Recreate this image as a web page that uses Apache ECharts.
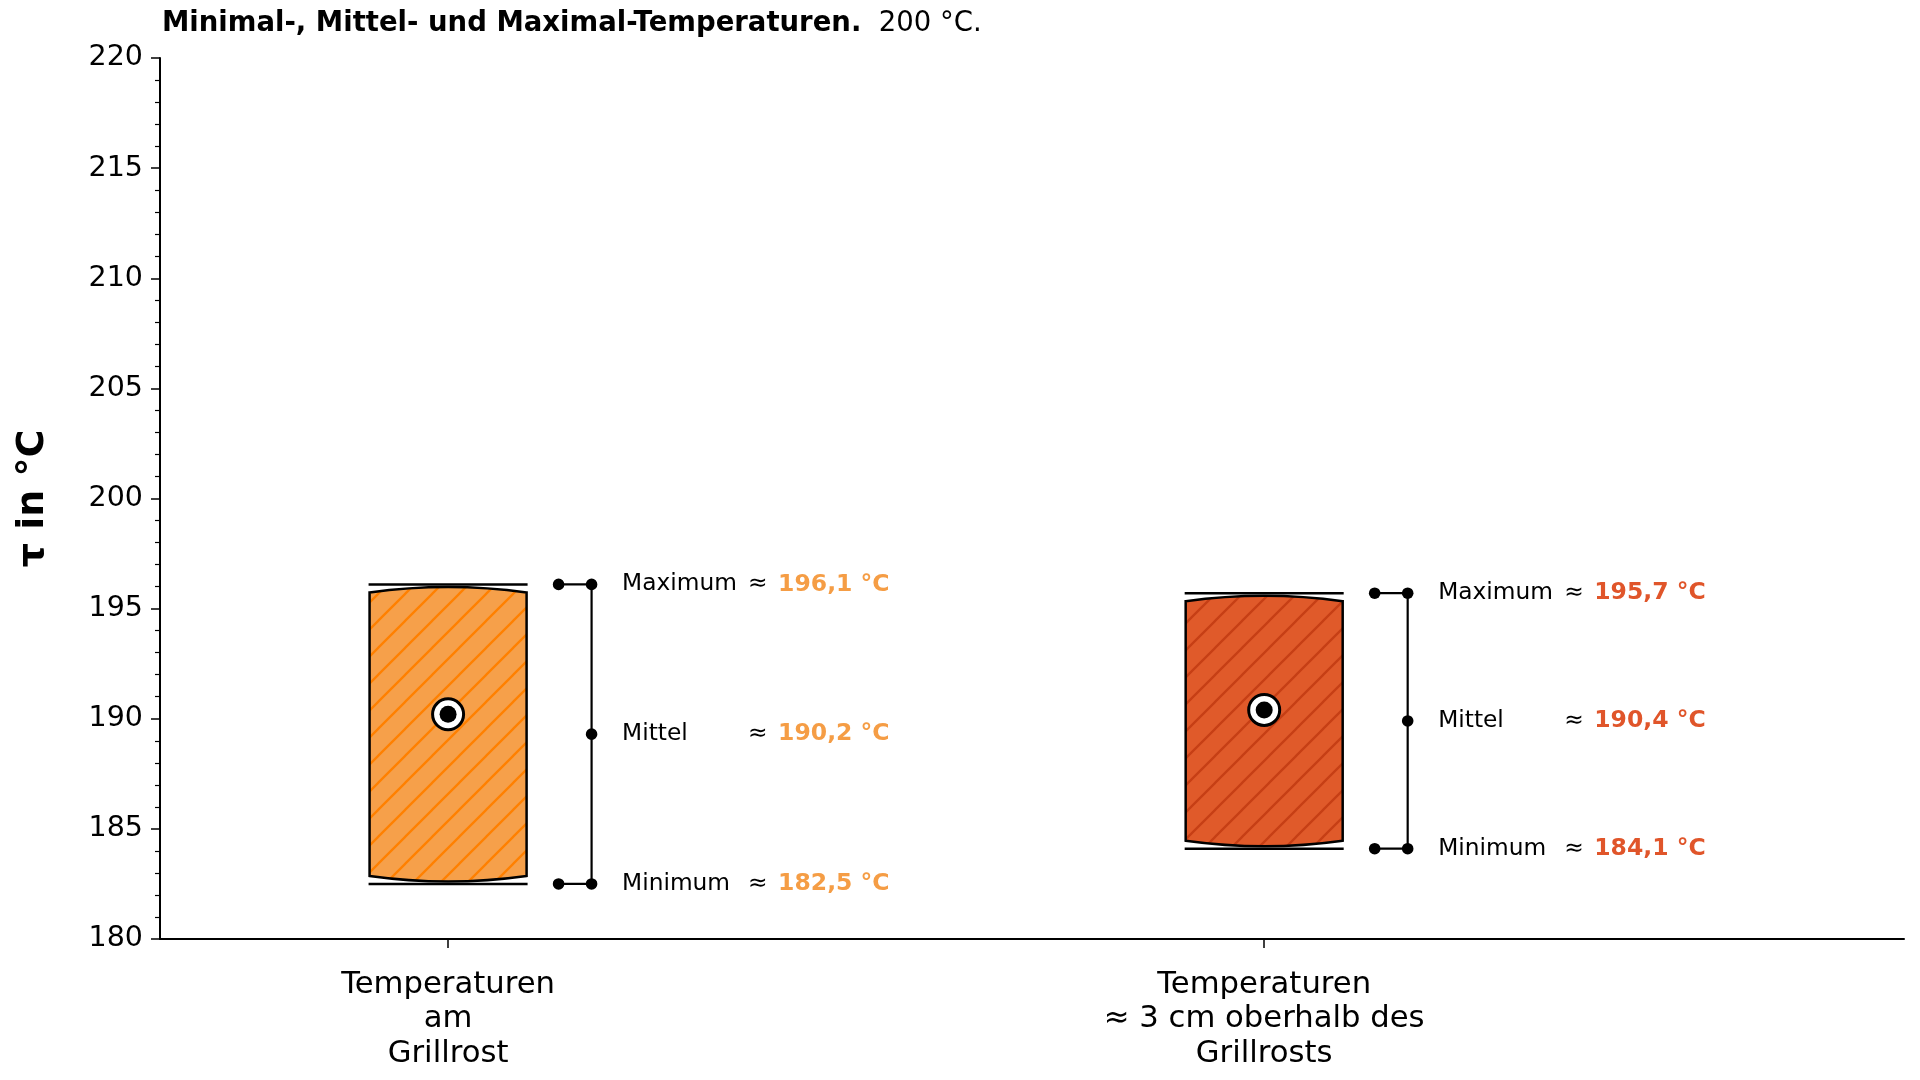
<!DOCTYPE html>
<html><head><meta charset="utf-8">
<script src="https://cdn.jsdelivr.net/npm/echarts@6/dist/echarts.min.js"></script>
<style>html,body{margin:0;padding:0;background:#fff;}#main{width:1920px;height:1080px;}</style>
</head><body><div id="main"></div>
<script>
// ---- data ----
const categories = ['Temperaturen\nam\nGrillrost', 'Temperaturen\n≈ 3 cm oberhalb des\nGrillrosts'];
const categoryPos = [0, 1];
const minValues = [182.5, 184.1];
const meanValues = [190.2, 190.4];
const maxValues = [196.1, 195.7];
const yMin = 180, yMax = 220, yStep = 5;
const titleBold = 'Minimal-, Mittel- und Maximal-Temperaturen.';
const titleNormal = '200 °C.';
const yName = 'τ in °C';
const rowLabels = ['Maximum', 'Mittel', 'Minimum'];

// ---- styles ----
const FONT = 'DejaVu Sans';
const fillColors = ['#F6A04A', '#E05A2A'];
const hatchColors = ['#FF8000', '#C63F15'];
const valueColors = ['#F59D45', '#E0552A'];
const BOX_HALF = 0.0962;

function makePattern(bg, line) {
  const s = 27;
  const c = document.createElement('canvas');
  c.width = s; c.height = s;
  const ctx = c.getContext('2d');
  ctx.fillStyle = bg; ctx.fillRect(0, 0, s, s);
  ctx.strokeStyle = line; ctx.lineWidth = 2.3;
  ctx.beginPath();
  ctx.moveTo(-2, s + 2); ctx.lineTo(s + 2, -2);
  ctx.moveTo(-2, 2); ctx.lineTo(2, -2);
  ctx.moveTo(s - 2, s + 2); ctx.lineTo(s + 2, s - 2);
  ctx.stroke();
  return c;
}
const patterns = fillColors.map((f, i) => makePattern(f, hatchColors[i]));

function fmt(v) { return v.toFixed(1).replace('.', ',') + ' °C'; }

function renderItem(params, api) {
  const x = api.value(0), lo = api.value(1), mean = api.value(2), hi = api.value(3), idx = api.value(4);
  const pHi = api.coord([x, hi]);
  const pLo = api.coord([x, lo]);
  const pMean = api.coord([x, mean]);
  const pMid = api.coord([x, (lo + hi) / 2]);
  const L = api.coord([x - BOX_HALF, hi])[0];
  const R = api.coord([x + BOX_HALF, hi])[0];
  const cx = pHi[0];
  const topSide = pHi[1] + 8, topCtrl = pHi[1] - 3;
  const botSide = pLo[1] - 8, botCtrl = pLo[1] + 3;
  const path = `M${L},${botSide} L${L},${topSide} Q${cx},${topCtrl} ${R},${topSide} L${R},${botSide} Q${cx},${botCtrl} ${L},${botSide} Z`;
  const children = [];
  children.push({ type: 'path', shape: { pathData: path },
    style: { fill: { image: patterns[idx], repeat: 'repeat' }, stroke: '#000', lineWidth: 2.5 } });
  children.push({ type: 'line', shape: { x1: L - 1, y1: pHi[1], x2: R + 1, y2: pHi[1] }, style: { stroke: '#000', lineWidth: 2.5 } });
  children.push({ type: 'line', shape: { x1: L - 1, y1: pLo[1], x2: R + 1, y2: pLo[1] }, style: { stroke: '#000', lineWidth: 2.5 } });
  // mean marker
  children.push({ type: 'circle', shape: { cx: pMean[0], cy: pMean[1], r: 15.5 }, style: { fill: '#fff', stroke: '#000', lineWidth: 3 } });
  children.push({ type: 'circle', shape: { cx: pMean[0], cy: pMean[1], r: 8.5 }, style: { fill: '#000' } });
  // bracket
  const bx1 = cx + 110.5, bx2 = cx + 143.5;
  children.push({ type: 'line', shape: { x1: bx2, y1: pHi[1], x2: bx2, y2: pLo[1] }, style: { stroke: '#000', lineWidth: 2.2 } });
  [pHi[1], pLo[1]].forEach(yy => {
    children.push({ type: 'line', shape: { x1: bx1, y1: yy, x2: bx2, y2: yy }, style: { stroke: '#000', lineWidth: 2.2 } });
    children.push({ type: 'circle', shape: { cx: bx1, cy: yy, r: 5.8 }, style: { fill: '#000' } });
    children.push({ type: 'circle', shape: { cx: bx2, cy: yy, r: 5.8 }, style: { fill: '#000' } });
  });
  children.push({ type: 'circle', shape: { cx: bx2, cy: pMid[1], r: 5.8 }, style: { fill: '#000' } });
  // labels
  const rows = [[rowLabels[0], hi, pHi[1]], [rowLabels[1], mean, pMid[1]], [rowLabels[2], lo, pLo[1]]];
  rows.forEach(([name, v, yy]) => {
    children.push({ type: 'text', style: { text: name, x: cx + 174, y: yy, fill: '#000', fontSize: 23.3, fontFamily: FONT, align: 'left', verticalAlign: 'middle' } });
    children.push({ type: 'text', style: { text: '≈', x: cx + 300, y: yy, fill: '#000', fontSize: 23.3, fontFamily: FONT, align: 'left', verticalAlign: 'middle' } });
    children.push({ type: 'text', style: { text: fmt(v), x: cx + 330, y: yy, fill: valueColors[idx], fontSize: 23.5, fontWeight: 'bold', fontFamily: FONT, align: 'left', verticalAlign: 'middle' } });
  });
  return { type: 'group', children };
}

const chart = echarts.init(document.getElementById('main'), null, { renderer: 'canvas' });
chart.setOption({
  animation: false,
  backgroundColor: '#fff',
  title: {
    left: 157, top: 5,
    text: '{b|' + titleBold + '}{n|  ' + titleNormal + '}',
    textStyle: { rich: {
      b: { fontFamily: FONT, fontWeight: 'bold', fontSize: 27.5, color: '#000' },
      n: { fontFamily: FONT, fontWeight: 'normal', fontSize: 27.5, color: '#000' }
    } }
  },
  grid: { left: 160, right: 16, top: 58, bottom: 141, containLabel: false },
  xAxis: {
    type: 'value', min: -0.353, max: 1.784,
    splitLine: { show: false },
    axisLine: { show: true, onZero: false, lineStyle: { color: '#000', width: 2 } },
    axisTick: { show: true, length: 9, lineStyle: { color: '#000', width: 1.5 }, customValues: categoryPos },
    axisLabel: {
      customValues: categoryPos, margin: 29,
      formatter: v => categories[Math.round(v)],
      fontFamily: FONT, fontSize: 30.7, color: '#000', lineHeight: 34.3, align: 'center'
    }
  },
  yAxis: {
    type: 'value', min: yMin, max: yMax, interval: yStep,
    name: yName, nameLocation: 'middle', nameGap: 108, nameRotate: 90,
    nameTextStyle: { fontFamily: FONT, fontWeight: 'bold', fontSize: 38, color: '#000' },
    splitLine: { show: false },
    axisLine: { show: true, onZero: false, lineStyle: { color: '#000', width: 2 } },
    axisTick: { show: true, length: 9, lineStyle: { color: '#000', width: 1.5 } },
    minorTick: { show: true, splitNumber: 5, length: 5, lineStyle: { color: '#000', width: 1.2 } },
    axisLabel: { margin: 17, fontFamily: FONT, fontSize: 28.5, color: '#000' }
  },
  series: [{
    type: 'custom',
    renderItem: renderItem,
    encode: { x: 0, y: [1, 2, 3] },
    data: categoryPos.map((p, i) => [p, minValues[i], meanValues[i], maxValues[i], i])
  }]
});
</script></body></html>
